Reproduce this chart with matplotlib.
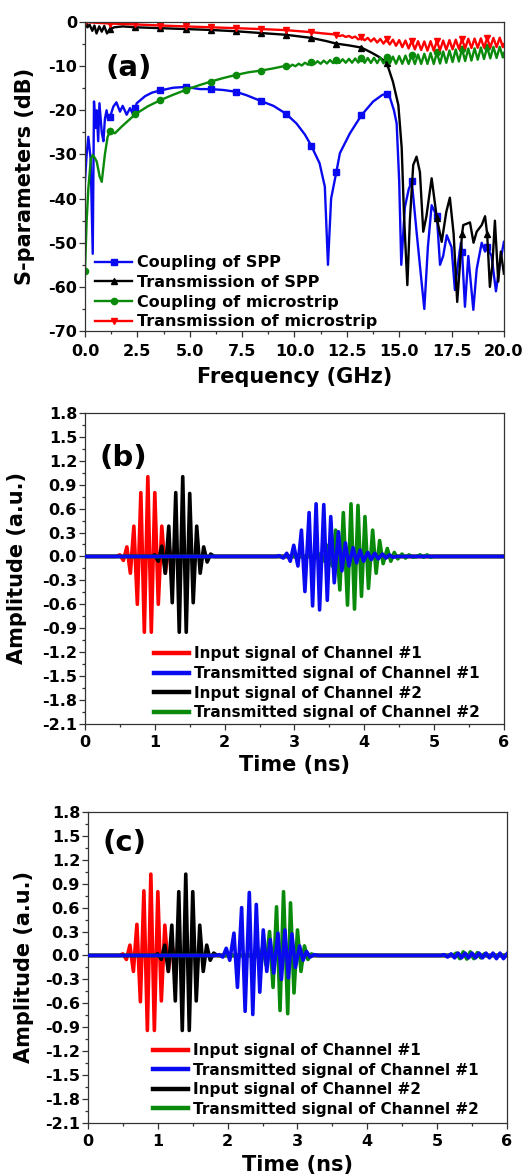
"""S-parameters of SPP / microstrip and time-domain channel signals, panels (a)-(c)."""

import matplotlib
matplotlib.use("Agg")
import matplotlib.pyplot as plt
from matplotlib.ticker import MultipleLocator, FormatStrFormatter

plt.rcParams["font.family"] = ["DejaVu Sans"]
plt.rcParams["font.weight"] = "bold"
plt.rcParams["axes.unicode_minus"] = False

# ---------------- (a) S-parameters (GHz, dB) ----------------
f_spp_c = [0.0, 0.08, 0.16, 0.27, 0.37, 0.43, 0.50, 0.56, 0.63, 0.69, 0.80, 0.88, 0.95, 1.03, 1.10, 1.20,
           1.35, 1.50, 1.67, 1.80, 1.99, 2.15, 2.30, 2.40, 2.47, 2.87, 3.20, 3.60, 4.20, 4.80, 5.49, 6.00,
           6.60, 7.20, 7.72, 8.40, 9.00, 9.60, 10.10, 10.50, 10.80, 11.20, 11.45, 11.60, 11.75, 12.00,
           12.17, 12.65, 13.20, 13.76, 14.20, 14.40, 14.55, 14.75, 14.88, 15.00, 15.10, 15.27, 15.45,
           15.60, 15.83, 16.05, 16.20, 16.37, 16.55, 16.80, 16.95, 17.10, 17.27, 17.50, 17.66, 17.80,
           17.95, 18.00, 18.14, 18.30, 18.54, 18.70, 18.94, 19.10, 19.20, 19.41, 19.62, 19.80, 20.00]
s_spp_c = [-36.0, -30.0, -26.0, -31.0, -52.5, -18.0, -24.0, -20.0, -27.0, -18.4, -25.0, -27.0, -22.0, -20.0, -22.0, -21.5,
           -19.2, -18.2, -20.3, -19.0, -21.0, -19.5, -21.0, -19.5, -18.4, -16.8, -16.0, -15.5, -14.9, -14.7, -15.2, -15.2,
           -15.4, -15.8, -16.6, -17.9, -19.0, -20.8, -23.0, -25.5, -28.0, -32.0, -37.3, -55.0, -40.0, -34.0,
           -29.7, -25.2, -21.1, -18.0, -16.5, -16.3, -17.0, -20.0, -23.0, -36.0, -55.0, -42.0, -38.0,
           -36.0, -47.5, -58.0, -65.0, -51.0, -41.5, -44.0, -55.0, -53.0, -48.3, -51.0, -60.7, -55.0,
           -50.0, -52.0, -64.5, -53.0, -65.2, -56.0, -50.0, -52.0, -51.0, -53.0, -61.0, -55.0, -49.8]

f_spp_t = [0.0, 0.12, 0.22, 0.35, 0.45, 0.55, 0.68, 0.80, 0.92, 1.05, 1.20, 1.40, 1.80, 2.40, 3.60, 4.80,
           6.00, 7.20, 8.40, 9.60, 10.80, 11.50, 12.00, 12.60, 13.20, 13.70, 14.00, 14.40, 14.70, 14.96,
           15.12, 15.23, 15.39, 15.51, 15.67, 15.83, 15.99, 16.15, 16.30, 16.55, 16.80, 17.03, 17.25,
           17.42, 17.60, 17.77, 17.90, 18.00, 18.06, 18.38, 18.55, 18.70, 18.94, 19.10, 19.20, 19.33,
           19.45, 19.57, 19.73, 19.85, 20.00]
s_spp_t = [-0.3, -1.2, -0.6, -2.0, -0.8, -2.6, -1.0, -2.2, -0.9, -2.6, -1.6, -1.2, -1.0, -1.2, -1.4, -1.6,
           -1.8, -2.1, -2.5, -2.9, -3.6, -4.3, -4.9, -5.3, -5.8, -7.0, -7.8, -9.2, -13.5, -18.8,
           -28.5, -43.7, -59.6, -45.0, -32.4, -30.5, -34.0, -47.5, -44.0, -35.4, -44.5, -49.8, -43.0,
           -39.8, -48.0, -63.4, -55.0, -48.0, -46.0, -45.4, -50.0, -47.5, -46.0, -44.0, -48.0, -60.0,
           -55.0, -45.0, -58.8, -52.0, -57.0]

f_ms_c = [0.0, 0.08, 0.16, 0.28, 0.37, 0.47, 0.56, 0.70, 0.80, 0.95, 1.08, 1.20, 1.43, 1.75, 2.40, 3.00,
          3.60, 4.20, 4.80, 5.40, 6.00, 6.60, 7.20, 7.80, 8.40, 9.00,
          9.60, 9.75, 9.90, 10.05, 10.20, 10.35, 10.50, 10.65, 10.80, 10.95, 11.10, 11.25, 11.40, 11.55,
          11.70, 11.85, 12.00, 12.15, 12.30, 12.45, 12.60, 12.75, 12.90, 13.05, 13.20, 13.35, 13.50,
          13.65, 13.80, 13.95, 14.10, 14.25, 14.40, 14.55, 14.70, 14.85, 15.00, 15.15, 15.30, 15.45,
          15.60, 15.75, 15.90, 16.05, 16.20, 16.35, 16.50, 16.65, 16.80, 16.95, 17.10, 17.25, 17.40,
          17.55, 17.70, 17.85, 18.00, 18.15, 18.30, 18.45, 18.60, 18.75, 18.90, 19.05, 19.20, 19.35,
          19.50, 19.65, 19.80, 19.95, 20.00]
s_ms_c = [-56.5, -45.0, -37.7, -31.0, -30.1, -30.8, -31.6, -35.0, -36.2, -30.0, -26.0, -24.8, -25.2, -23.7, -20.9, -19.1,
          -17.7, -16.5, -15.4, -14.4, -13.5, -12.7, -12.0, -11.4, -11.0, -10.5,
          -9.9, -10.2, -9.68, -10.02, -9.45, -9.85, -9.22, -9.68, -9.0, -9.55, -8.88, -9.47, -8.75, -9.4,
          -8.62, -9.33, -8.5, -9.28, -8.43, -9.24, -8.35, -9.23, -8.27, -9.2, -8.2, -9.25, -8.15,
          -9.28, -8.1, -9.32, -8.05, -9.37, -8.0, -9.43, -7.85, -9.47, -7.72, -9.47, -7.6, -9.5,
          -7.5, -9.52, -7.37, -9.5, -7.2, -9.5, -7.02, -9.51, -6.9, -9.42, -6.67, -9.25, -6.44,
          -9.08, -6.22, -8.96, -6.1, -8.85, -6.0, -8.75, -5.95, -8.55, -5.77, -8.38, -5.7, -8.25,
          -5.62, -8.15, -5.6, -8.05, -7.0]

f_ms_t = [0.0, 0.6, 1.2, 2.4, 3.6, 4.8, 6.0, 7.2, 8.4, 9.6, 10.8, 11.4,
          12.00, 12.15, 12.30, 12.45, 12.60, 12.75, 12.90, 13.05, 13.20, 13.35, 13.50, 13.65, 13.80,
          13.95, 14.10, 14.25, 14.40, 14.55, 14.70, 14.85, 15.00, 15.15, 15.30, 15.45, 15.60, 15.75,
          15.90, 16.05, 16.20, 16.35, 16.50, 16.65, 16.80, 16.95, 17.10, 17.25, 17.40, 17.55, 17.70,
          17.85, 18.00, 18.15, 18.30, 18.45, 18.60, 18.75, 18.90, 19.05, 19.20, 19.35, 19.50, 19.65,
          19.80, 19.95, 20.00]
s_ms_t = [0.0, -0.2, -0.35, -0.55, -0.8, -1.0, -1.2, -1.4, -1.6, -1.85, -2.3, -2.6,
          -2.85, -3.2, -3.0, -3.4, -3.15, -3.6, -3.3, -3.95, -3.5, -4.15, -3.6, -4.4, -3.7,
          -4.65, -3.85, -4.9, -3.95, -5.1, -4.0, -5.4, -4.1, -5.7, -4.2, -6.0, -4.3, -6.2,
          -4.35, -6.35, -4.4, -6.5, -4.35, -6.5, -4.3, -6.4, -4.2, -6.3, -4.1, -6.2, -4.0,
          -6.1, -3.9, -6.0, -3.8, -5.9, -3.75, -5.85, -3.7, -5.8, -3.65, -5.75, -3.6, -5.7,
          -3.55, -5.7, -5.0]

# ---------------- (b) time signals (ns, a.u.) ----------------
t_in1_b = [0.0, 0.45, 0.50, 0.55, 0.60, 0.65, 0.70, 0.75, 0.80, 0.85, 0.90, 0.95, 1.00, 1.05, 1.10,
           1.15, 1.20, 1.25, 1.30, 1.35, 6.0]
v_in1_b = [0.0, 0.0, 0.02, -0.05, 0.12, -0.21, 0.38, -0.60, 0.80, -0.95, 1.00, -0.95, 0.80, -0.60, 0.38,
           -0.21, 0.12, -0.05, 0.02, 0.0, 0.0]
t_in2_b = [0.0, 0.95, 1.00, 1.05, 1.10, 1.15, 1.20, 1.25, 1.30, 1.35, 1.40, 1.45, 1.50, 1.55, 1.60,
           1.65, 1.70, 1.75, 1.80, 1.85, 6.0]
v_in2_b = [0.0, 0.0, 0.02, -0.06, 0.13, -0.21, 0.38, -0.58, 0.80, -0.95, 1.00, -0.95, 0.79, -0.58, 0.38,
           -0.21, 0.12, -0.07, 0.03, 0.0, 0.0]
t_tr1_b = [0.0, 2.74, 2.78, 2.84, 2.89, 2.94, 2.99, 3.05, 3.10, 3.15, 3.21, 3.26, 3.31, 3.36, 3.42,
           3.47, 3.52, 3.57, 3.63, 3.68, 3.73, 3.78, 3.84, 3.89, 3.94, 3.99, 4.05, 4.10, 4.15, 4.20,
           4.26, 4.31, 4.36, 4.41, 4.47, 6.0]
v_tr1_b = [0.0, 0.0, 0.01, -0.02, 0.04, -0.06, 0.14, -0.12, 0.33, -0.44, 0.55, -0.62, 0.66, -0.67, 0.65,
           -0.55, 0.50, -0.33, 0.31, -0.18, 0.17, -0.12, 0.11, -0.08, 0.08, -0.06, 0.05, -0.04, 0.04, -0.03,
           0.03, -0.02, 0.02, -0.01, 0.0, 0.0]
t_tr2_b = [0.0, 3.23, 3.27, 3.33, 3.38, 3.43, 3.48, 3.54, 3.59, 3.65, 3.70, 3.76, 3.81, 3.86, 3.91,
           3.96, 4.01, 4.06, 4.12, 4.17, 4.22, 4.27, 4.33, 4.38, 4.43, 4.48, 4.54, 4.59, 4.64, 4.70,
           4.75, 4.80, 4.85, 4.90, 4.95, 5.00, 6.0]
v_tr2_b = [0.0, 0.0, 0.01, -0.02, 0.04, -0.06, 0.14, -0.12, 0.33, -0.42, 0.55, -0.61, 0.66, -0.66, 0.64,
           -0.50, 0.50, -0.40, 0.33, -0.21, 0.20, -0.09, 0.10, -0.06, 0.05, -0.03, 0.03, -0.02, 0.02, -0.01,
           0.0, 0.02, -0.01, 0.02, -0.01, 0.0, 0.0]

# ---------------- (c) time signals (ns, a.u.) ----------------
t_in1_c = [0.0, 0.45, 0.50, 0.55, 0.60, 0.65, 0.70, 0.75, 0.80, 0.85, 0.90, 0.95, 1.00, 1.05, 1.10,
           1.15, 1.20, 1.25, 1.30, 1.35, 6.0]
v_in1_c = [0.0, 0.0, 0.02, -0.05, 0.13, -0.20, 0.39, -0.58, 0.81, -0.94, 1.02, -0.94, 0.80, -0.57, 0.38,
           -0.20, 0.13, -0.05, 0.02, 0.0, 0.0]
t_in2_c = [0.0, 0.95, 1.00, 1.05, 1.10, 1.15, 1.20, 1.25, 1.30, 1.35, 1.40, 1.45, 1.50, 1.55, 1.60,
           1.65, 1.70, 1.75, 1.80, 1.85, 6.0]
v_in2_c = [0.0, 0.0, 0.02, -0.05, 0.13, -0.20, 0.38, -0.57, 0.80, -0.94, 1.02, -0.94, 0.80, -0.57, 0.38,
           -0.20, 0.13, -0.06, 0.03, 0.0, 0.0]
t_tr1_c = [0.0, 1.83, 1.88, 1.93, 1.98, 2.03, 2.09, 2.14, 2.20, 2.25, 2.31, 2.36, 2.41, 2.46, 2.51,
           2.56, 2.61, 2.66, 2.72, 2.77, 2.82, 2.87, 2.92, 2.97, 3.03, 3.08, 3.13, 3.18, 3.24, 3.30,
           5.05, 5.10, 5.15, 5.20, 5.25, 5.30, 5.35, 5.40, 5.45, 5.50, 5.55, 5.60, 5.65, 5.70, 5.75,
           5.80, 5.85, 5.90, 5.95, 6.0]
v_tr1_c = [0.0, 0.0, 0.01, -0.02, 0.09, -0.06, 0.28, -0.40, 0.60, -0.70, 0.79, -0.74, 0.64, -0.46, 0.32,
           -0.20, 0.20, -0.22, 0.28, -0.30, 0.32, -0.28, 0.27, -0.15, 0.12, -0.06, 0.05, -0.02, 0.01, 0.0,
           0.0, 0.01, -0.02, 0.02, -0.03, 0.03, -0.03, 0.03, -0.03, 0.03, -0.03, 0.03, -0.03, 0.03, -0.03,
           0.03, -0.04, 0.03, -0.04, 0.02]
t_tr2_c = [0.0, 2.35, 2.40, 2.45, 2.50, 2.55, 2.60, 2.65, 2.70, 2.75, 2.80, 2.86, 2.90, 2.95, 3.00,
           3.05, 3.10, 3.15, 3.20, 3.25, 5.225, 5.275, 5.325, 5.375, 5.425, 5.475, 5.525, 5.575, 5.625,
           5.675, 5.725, 5.775, 6.0]
v_tr2_c = [0.0, 0.0, 0.02, -0.04, 0.10, -0.12, 0.30, -0.40, 0.61, -0.69, 0.80, -0.73, 0.66, -0.47, 0.32,
           -0.20, 0.12, -0.05, 0.02, 0.0, 0.0, 0.03, -0.04, 0.045, -0.045, 0.045, -0.04, 0.035, -0.03,
           0.02, -0.01, 0.0, 0.0]

legend_a = ["Coupling of SPP", "Transmission of SPP", "Coupling of microstrip", "Transmission of microstrip"]
legend_bc = ["Input signal of Channel #1", "Transmitted signal of Channel #1",
             "Input signal of Channel #2", "Transmitted signal of Channel #2"]

BLUE = "#0a0af0"
GREEN = "#0a8a0a"
RED = "#ff0000"
EDGE = "#333333"


def marks(freqs, step=1.2, skip_zero=False):
    idx = [i for i, f in enumerate(freqs) if abs(f / step - round(f / step)) < 1e-6]
    return [i for i in idx if not (skip_zero and freqs[i] == 0)]


def style(ax, xpad):
    for sp in ax.spines.values():
        sp.set_linewidth(0.9)
        sp.set_color(EDGE)
    ax.tick_params(which="both", direction="out", top=False, right=False,
                   width=0.9, color=EDGE, labelsize=11.5)
    ax.tick_params(which="major", length=4.2)
    ax.tick_params(which="minor", length=2.4)
    ax.tick_params(axis="x", which="major", pad=xpad)
    ax.tick_params(axis="y", which="major", pad=1.5)


fig = plt.figure(figsize=(5.23, 11.76), dpi=100)

# ---- (a)
ax = fig.add_axes([0.1625, 0.7185, 0.801, 0.2628])
ax.plot(f_spp_c, s_spp_c, color=BLUE, lw=1.7, marker="s", ms=4, markevery=marks(f_spp_c, skip_zero=True),
        label=legend_a[0])
ax.plot(f_spp_t, s_spp_t, color="black", lw=1.7, marker="^", ms=4.5, markevery=marks(f_spp_t), label=legend_a[1])
ax.plot(f_ms_c, s_ms_c, color=GREEN, lw=1.7, marker="o", ms=4.5, markevery=marks(f_ms_c), label=legend_a[2])
ax.plot(f_ms_t, s_ms_t, color=RED, lw=1.7, marker="v", ms=4.5, markevery=marks(f_ms_t), label=legend_a[3])
ax.set_xlim(0, 20)
ax.set_ylim(-70, 0)
ax.xaxis.set_major_locator(MultipleLocator(2.5))
ax.xaxis.set_minor_locator(MultipleLocator(1.25))
ax.xaxis.set_major_formatter(FormatStrFormatter("%.1f"))
ax.yaxis.set_major_locator(MultipleLocator(10))
ax.yaxis.set_minor_locator(MultipleLocator(5))
style(ax, 5)
ax.set_xlabel("Frequency (GHz)", fontsize=15, fontweight="bold")
ax.set_ylabel("S-parameters (dB)", fontsize=15, fontweight="bold")
ax.xaxis.set_label_coords(0.5, -0.15)
ax.xaxis.label.set_va("center")
ax.yaxis.set_label_coords(-0.143, 0.5)
ax.yaxis.label.set_va("center")
ax.text(0.05, 0.85, "(a)", transform=ax.transAxes, fontsize=21, fontweight="bold", ha="left", va="center")
ax.legend(loc="lower left", bbox_to_anchor=(0.025, 0.005), frameon=False, fontsize=11.5,
          handlelength=2.3, handletextpad=0.3, labelspacing=0.3, borderpad=0, borderaxespad=0,
          numpoints=1)

# ---- (b) and (c)
panels = [
    ([0.1625, 0.3844, 0.801, 0.2645], "(b)", (0.035, 0.855),
     (t_in1_b, v_in1_b), (t_tr1_b, v_tr1_b), (t_in2_b, v_in2_b), (t_tr2_b, v_tr2_b),
     -0.162, -0.132, (0.165, 0.012)),
    ([0.1683, 0.0451, 0.801, 0.2645], "(c)", (0.035, 0.90),
     (t_in1_c, v_in1_c), (t_tr1_c, v_tr1_c), (t_in2_c, v_in2_c), (t_tr2_c, v_tr2_c),
     -0.153, -0.135, (0.155, 0.02)),
]
for rect, tag, tag_xy, in1, tr1, in2, tr2, ylx, xly, leg_xy in panels:
    ax = fig.add_axes(rect)
    ax.plot(*in1, color=RED, lw=2.6, zorder=2, label=legend_bc[0])
    ax.plot(*tr1, color=BLUE, lw=2.6, zorder=5, label=legend_bc[1])
    ax.plot(*in2, color="black", lw=2.6, zorder=3, label=legend_bc[2])
    ax.plot(*tr2, color=GREEN, lw=2.6, zorder=4, label=legend_bc[3])
    ax.set_xlim(0, 6)
    ax.set_ylim(-2.1, 1.8)
    ax.xaxis.set_major_locator(MultipleLocator(1))
    ax.xaxis.set_minor_locator(MultipleLocator(0.5))
    ax.yaxis.set_major_locator(MultipleLocator(0.3))
    ax.yaxis.set_minor_locator(MultipleLocator(0.15))
    ax.yaxis.set_major_formatter(FormatStrFormatter("%.1f"))
    style(ax, 3.5)
    ax.set_xlabel("Time (ns)", fontsize=15, fontweight="bold")
    ax.set_ylabel("Amplitude (a.u.)", fontsize=15, fontweight="bold")
    ax.xaxis.set_label_coords(0.5, xly)
    ax.xaxis.label.set_va("center")
    ax.yaxis.set_label_coords(ylx, 0.5)
    ax.yaxis.label.set_va("center")
    ax.text(tag_xy[0], tag_xy[1], tag, transform=ax.transAxes, fontsize=21, fontweight="bold",
            ha="left", va="center")
    leg = ax.legend(loc="lower left", bbox_to_anchor=leg_xy, frameon=False, fontsize=11,
                    handlelength=2.3, handletextpad=0.3, labelspacing=0.3, borderpad=0,
                    borderaxespad=0)
    for h in leg.get_lines():
        h.set_linewidth(3.2)
    leg.set_zorder(10)

fig.savefig("out.png", dpi=100)
